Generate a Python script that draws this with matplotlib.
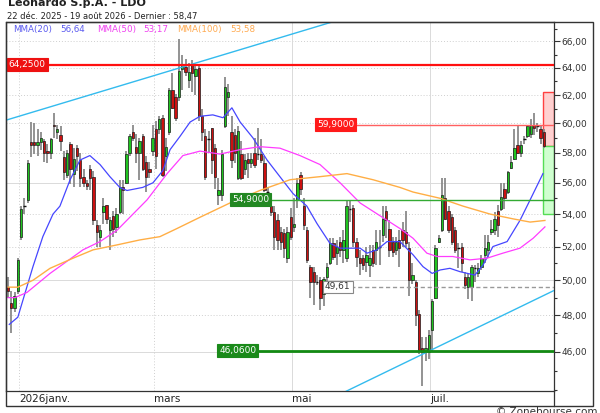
import numpy as np
import matplotlib
matplotlib.use("Agg")
import matplotlib.pyplot as plt
from matplotlib.patches import Rectangle
from matplotlib.lines import Line2D
from matplotlib.ticker import FixedLocator, FuncFormatter, NullFormatter

plt.rcParams['font.family'] = ['DejaVu Sans']

# ---------------- data ----------------
opens = [
    49.6, 48.7, 48.4, 49.4, 52.6, 54.5, 54.9, 58.7, 58.7, 58.5,
    58.7, 58.8, 58.1, 58.0, 59.9, 59.4, 59.2, 57.7, 56.5, 58.6,
    56.6, 58.3, 57.5, 56.4, 56.0, 56.9, 56.4, 53.3, 52.6, 54.1,
    54.6, 53.0, 53.9, 53.2, 54.1, 55.7, 56.0, 58.0, 59.4, 58.4,
    58.0, 59.1, 57.4, 56.9, 58.1, 59.6, 59.6, 60.4, 57.8, 59.4,
    62.4, 61.9, 61.9, 63.9, 64.1, 63.1, 64.3, 63.4, 64.0, 60.5,
    59.1, 58.9, 59.7, 58.3, 55.2, 55.2, 59.8, 61.9, 59.4, 59.2,
    56.3, 57.9, 56.9, 57.6, 57.3, 58.0, 57.9, 57.9, 57.3, 55.4,
    54.5, 54.1, 53.6, 52.9, 52.8, 51.3, 53.8, 53.2, 54.9, 56.5,
    54.5, 53.0, 50.8, 50.5, 49.9, 50.0, 49.2, 50.2, 51.0, 52.2,
    51.6, 52.3, 51.8, 51.3, 54.3, 54.4, 52.3, 51.3, 51.3, 51.1,
    50.9, 51.8, 51.8, 52.0, 52.7, 54.2, 53.1, 52.3, 51.8, 52.4,
    53.0, 52.9, 51.9, 50.0, 49.9, 48.1, 46.2, 46.0, 46.0, 47.2,
    49.0, 52.3, 53.0, 55.0, 54.2, 53.8, 53.0, 51.9, 52.0, 50.2,
    49.6, 49.6, 50.7, 50.4, 50.8, 51.5, 51.8, 52.9, 53.0, 54.2,
    54.3, 55.6, 55.4, 57.0, 57.6, 58.5, 58.0, 58.9, 59.1, 59.3,
    59.9, 59.8, 59.6, 59.4,
]
highs = [
    50.2, 49.4, 49.3, 51.3, 54.5, 55.0, 57.5, 60.1, 60.0, 59.6,
    59.4, 58.9, 58.6, 59.0, 60.7, 59.9, 59.8, 58.1, 58.2, 58.7,
    58.3, 58.5, 58.0, 56.9, 56.2, 57.2, 56.8, 53.6, 53.3, 55.0,
    54.6, 53.8, 54.2, 54.4, 56.2, 56.2, 58.1, 59.3, 59.9, 59.3,
    59.0, 59.3, 57.8, 57.4, 59.9, 60.2, 60.5, 60.6, 59.0, 62.5,
    63.6, 62.1, 66.2, 65.0, 64.7, 64.4, 64.6, 64.2, 64.2, 61.0,
    59.6, 59.5, 59.7, 58.6, 56.3, 58.2, 63.3, 62.8, 60.5, 59.6,
    59.8, 58.8, 57.9, 58.0, 58.0, 59.0, 59.7, 58.9, 57.8, 55.7,
    54.8, 54.5, 54.0, 53.2, 53.1, 53.2, 54.4, 55.0, 56.3, 56.7,
    55.0, 53.2, 50.9, 50.8, 50.3, 50.2, 50.2, 51.0, 52.5, 52.5,
    52.4, 52.6, 53.0, 54.9, 54.9, 54.6, 52.5, 51.8, 51.5, 52.0,
    52.1, 52.1, 53.0, 53.0, 54.5, 54.5, 53.6, 52.6, 52.6, 53.0,
    53.5, 54.2, 52.3, 51.0, 50.0, 48.3, 46.8, 46.8, 47.2, 48.9,
    52.1, 52.7, 56.3, 56.3, 54.5, 54.0, 53.2, 52.2, 52.2, 50.5,
    50.4, 50.9, 50.9, 51.0, 51.5, 52.7, 52.7, 53.6, 54.1, 54.6,
    56.0, 56.0, 56.8, 57.8, 59.6, 59.8, 58.8, 59.1, 59.9, 60.3,
    60.7, 60.0, 59.9, 59.6,
]
lows = [
    49.0, 47.0, 48.2, 49.2, 52.4, 54.0, 54.7, 57.7, 57.9, 57.8,
    58.2, 57.4, 57.3, 57.6, 59.0, 58.9, 58.1, 56.2, 56.3, 55.9,
    55.7, 56.8, 55.7, 55.7, 55.5, 55.5, 53.3, 52.0, 52.0, 53.4,
    53.4, 51.8, 52.6, 52.8, 54.0, 54.0, 55.9, 57.8, 58.8, 57.3,
    56.2, 56.8, 55.4, 56.3, 57.8, 56.9, 59.3, 56.4, 56.8, 59.2,
    61.0, 60.2, 61.6, 62.4, 63.4, 62.5, 62.2, 62.0, 60.2, 58.8,
    56.2, 58.0, 56.6, 55.6, 54.6, 54.8, 59.7, 60.5, 57.0, 57.3,
    56.2, 56.2, 56.5, 56.3, 57.0, 57.0, 57.5, 57.3, 55.4, 55.1,
    53.9, 51.8, 51.8, 51.8, 51.3, 51.0, 52.4, 52.9, 54.4, 55.2,
    53.0, 51.0, 49.0, 48.6, 49.7, 48.3, 48.5, 49.9, 50.9, 51.2,
    50.9, 51.4, 51.0, 51.1, 53.5, 52.0, 50.8, 50.3, 50.6, 50.5,
    50.2, 50.8, 50.9, 50.9, 52.3, 52.5, 51.4, 51.4, 51.5, 50.8,
    52.0, 52.0, 49.1, 49.8, 47.4, 45.9, 44.2, 45.5, 45.6, 46.0,
    48.9, 52.2, 52.9, 53.6, 52.8, 52.1, 51.6, 50.7, 50.5, 49.5,
    48.9, 48.8, 49.9, 50.2, 50.6, 51.0, 51.3, 52.7, 52.7, 52.6,
    54.2, 54.3, 55.3, 56.9, 57.5, 57.9, 57.7, 58.6, 59.0, 59.0,
    59.2, 59.4, 58.6, 58.3,
]
closes = [
    49.4, 48.4, 49.1, 51.2, 54.3, 54.5, 57.3, 58.5, 58.5, 58.7,
    59.0, 58.0, 58.0, 58.9, 59.8, 59.6, 58.8, 56.7, 58.0, 56.9,
    57.6, 57.8, 56.3, 56.0, 55.8, 56.3, 53.6, 52.9, 53.0, 54.5,
    53.7, 53.6, 53.1, 54.0, 55.7, 55.5, 57.9, 59.1, 59.0, 58.0,
    58.8, 56.9, 56.4, 56.7, 59.0, 57.8, 60.3, 56.5, 58.4, 62.4,
    61.1, 60.4, 63.8, 64.3, 63.7, 63.7, 63.6, 63.9, 60.5, 59.4,
    56.4, 58.9, 57.5, 56.4, 55.5, 57.9, 62.6, 62.2, 57.5, 58.0,
    59.5, 56.3, 57.5, 57.3, 57.6, 57.2, 57.9, 57.5, 55.5, 55.4,
    54.1, 52.6, 52.4, 52.3, 51.9, 52.9, 52.6, 53.4, 56.0, 55.6,
    53.3, 51.2, 49.9, 49.9, 49.9, 49.0, 50.1, 50.8, 52.2, 51.4,
    52.0, 51.8, 52.4, 54.5, 54.3, 52.3, 51.4, 51.0, 50.9, 51.5,
    51.3, 51.0, 52.3, 52.0, 53.7, 53.6, 51.8, 51.7, 52.3, 51.9,
    52.4, 52.2, 50.0, 50.3, 48.0, 46.1, 46.0, 46.2, 46.9, 48.8,
    51.9, 52.5, 55.2, 53.7, 53.0, 52.3, 51.8, 51.9, 51.0, 49.7,
    50.2, 50.8, 50.7, 50.7, 51.3, 51.9, 52.3, 53.1, 53.7, 53.3,
    55.1, 55.0, 56.7, 57.4, 58.3, 58.0, 58.5, 58.9, 59.8, 59.9,
    59.7, 59.8, 59.0, 58.47,
]

# month labels and index of first trading day of each month
month_labels = ['2026janv.', 'mars', 'mai', 'juil.']
month_idx = [4, 45, 87, 129]
month_grid_dotted = [True, True, False, False]

# moving averages (trading-day index, value)
ma20_x = [0.4, 3.0, 7.6, 10.6, 13.7, 15.8, 18.9, 21.9, 24.9, 28.0, 31.0, 34.0,
          36.2, 41.0, 44.1, 47.1, 49.3, 52.3, 55.4, 58.4, 62.3, 65.4, 68.1,
          70.6, 74.5, 78.8, 82.7, 86.7, 90.9, 94.0, 97.9, 101.0, 104.0, 107.1,
          109.2, 112.2, 115.3, 119.2, 123.2, 126.2, 129.0, 131.4, 134.4, 137.5,
          142.0, 144.5, 147.5, 151.8, 155.7, 158.8, 162.7]
ma20_y = [47.5, 47.9, 50.8, 52.6, 54.0, 54.5, 56.2, 57.5, 57.8, 57.2, 56.4, 55.7,
          55.5, 55.7, 56.0, 56.8, 58.2, 59.1, 60.1, 60.5, 60.6, 60.4, 61.1,
          60.1, 59.0, 57.5, 56.4, 55.3, 54.5, 53.4, 52.2, 51.9, 51.9, 51.9,
          51.6, 51.8, 52.3, 52.3, 51.5, 50.8, 50.4, 50.6, 50.7, 50.5,
          50.3, 50.9, 52.0, 52.3, 53.6, 54.9, 56.6]
ma50_x = [0.0, 2.1, 5.8, 12.8, 22.8, 28.0, 33.2, 42.3, 48.4, 53.2, 58.4, 64.5,
          70.6, 76.6, 82.7, 88.8, 94.9, 101.0, 107.1, 113.1, 119.2, 123.2,
          127.4, 130.5, 135.3, 140.5, 145.7, 150.5, 155.7, 159.7, 163.3]
ma50_y = [49.0, 49.0, 49.3, 50.4, 51.8, 52.3, 53.0, 54.9, 56.6, 57.8, 58.1, 57.9,
          58.2, 58.4, 58.3, 57.8, 57.2, 56.0, 54.7, 53.9, 53.1, 52.5,
          51.6, 51.4, 51.4, 51.2, 51.3, 51.6, 51.9, 52.5, 53.2]
ma100_x = [0.0, 3.0, 7.6, 12.8, 19.8, 25.9, 33.2, 40.1, 46.2, 51.4, 58.4, 67.5,
           76.6, 85.8, 94.9, 103.1, 111.0, 119.2, 123.2, 131.4, 138.4, 146.6,
           153.6, 158.8, 163.3]
ma100_y = [49.6, 49.6, 50.0, 50.7, 51.3, 51.8, 52.1, 52.4, 52.6, 53.1, 53.8, 54.7,
           55.5, 56.2, 56.4, 56.6, 56.2, 55.7, 55.4, 55.0, 54.5, 54.0,
           53.7, 53.5, 53.6]

legend_names = ['MMA(20)', 'MMA(50)', 'MMA(100)']
legend_vals = [56.64, 53.17, 53.58]

# trend lines (two anchor points each: index, price)
trend_up_x = [0.0, 58.4]
trend_up_y = [60.27, 64.46]
trend_lo_x = [113.1, 166.4]
trend_lo_y = [44.79, 49.44]

# horizontal levels
level_res1 = 64.25
level_res2 = 59.90
level_sup1 = 54.90
level_sup2 = 46.06
level_low = 49.61
box_top = 62.2
box_bottom = 54.0
last_price = 58.47

yticks_major = [46, 48, 50, 52, 54, 56, 58, 60, 62, 64, 66]
yticks_minor = [44, 45, 47, 49, 51, 53, 55, 57, 59, 61, 63, 65, 67]
grid_levels = [46, 48, 50, 52, 54, 56, 58, 60, 62, 64, 66]
grid_solid = [46, 50, 56]

# ---------------- figure ----------------
W, H = 600, 413
fig = plt.figure(figsize=(W / 100, H / 100), dpi=100)
fig.patch.set_facecolor('white')


def fx(px):
    return px / W


def fy(py):
    return 1 - py / H


ax = fig.add_axes([fx(6), fy(391), fx(554) - fx(6), fy(22) - fy(391)])
ax.set_yscale('log')
ax.set_ylim(43.96, 67.51)
XMIN, XMAX = -0.6, 166.06
ax.set_xlim(XMIN, XMAX)
ax.set_facecolor('white')

# grid
for lv in grid_levels:
    if lv in grid_solid:
        ax.axhline(lv, color='#dadada', lw=0.7, zorder=0)
    else:
        ax.axhline(lv, color='#cfcfcf', lw=0.7, ls=(0, (1, 2)), zorder=0)
tick_pos = [m - 0.6 for m in month_idx]
for p, dotted in zip(tick_pos, month_grid_dotted):
    if dotted:
        ax.axvline(p, color='#cfcfcf', lw=0.7, ls=(0, (1, 2)), zorder=0)
    else:
        ax.axvline(p, color='#dadada', lw=0.7, zorder=0)

# axes ticks
ax.set_xticks(tick_pos)
ax.set_xticklabels(month_labels, ha='left', fontsize=7.5, color='#222222')
ax.tick_params(axis='x', length=0, pad=2.5)
ax.yaxis.tick_right()
ax.yaxis.set_major_locator(FixedLocator(yticks_major))
ax.yaxis.set_major_formatter(FuncFormatter(lambda v, p: f"{v:.2f}".replace('.', ',')))
ax.yaxis.set_minor_locator(FixedLocator(yticks_minor))
ax.yaxis.set_minor_formatter(NullFormatter())
ax.tick_params(axis='y', which='major', length=4, width=0.8, color='#333333',
               labelsize=6.5, labelcolor='#333333', pad=1.5)
ax.tick_params(axis='y', which='minor', length=2.5, width=0.8, color='#333333')
for s in ax.spines.values():
    s.set_color('#333333')
    s.set_linewidth(0.9)

# candles
O = np.array(opens)
Hh = np.array(highs)
L = np.array(lows)
C = np.array(closes)
idx = np.arange(len(C))
lo_b = np.minimum(O, C)
hi_b = np.maximum(O, C)
ax.vlines(idx, np.minimum(L, lo_b), np.maximum(Hh, hi_b), color='#8a8a8a', lw=1.3, zorder=2)
up = C > O
dn = C < O
dj = C == O
ax.bar(idx[up], (hi_b - lo_b)[up], bottom=lo_b[up], width=0.72, color='#1fc41f',
       edgecolor='#1a1a1a', linewidth=0.5, zorder=3)
ax.bar(idx[dn], (hi_b - lo_b)[dn], bottom=lo_b[dn], width=0.72, color='#cc1010',
       edgecolor='#1a1a1a', linewidth=0.5, zorder=3)
ax.hlines(C[dj], idx[dj] - 0.4, idx[dj] + 0.4, color='#111111', lw=1.0, zorder=3)

# moving averages
ax.plot(ma20_x, ma20_y, color='#4646ff', lw=0.9, zorder=3.5)
ax.plot(ma50_x, ma50_y, color='#ff3cff', lw=0.9, zorder=3.5)
ax.plot(ma100_x, ma100_y, color='#ffae45', lw=1.0, zorder=3.5)


def trend(xs, ys):
    s = (np.log(ys[1]) - np.log(ys[0])) / (xs[1] - xs[0])
    xx = np.array([XMIN, XMAX])
    return xx, np.exp(np.log(ys[0]) + s * (xx - xs[0]))


tx, ty = trend(trend_up_x, trend_up_y)
ax.plot(tx, ty, color='#33bbee', lw=1.0, zorder=3.4)
tx, ty = trend(trend_lo_x, trend_lo_y)
ax.plot(tx, ty, color='#33bbee', lw=1.0, zorder=3.4)

# levels
ax.axhline(level_res1, color='#ff1010', lw=1.6, zorder=4)
ax.hlines(level_res2, 93.4, XMAX, color='#ff6060', lw=1.0, zorder=4)
ax.hlines(level_sup1, 67.5, XMAX, color='#33aa33', lw=1.0, zorder=4)
ax.hlines(level_sup2, 63.6, XMAX, color='#138a13', lw=2.0, zorder=4)
ax.hlines(level_low, 95.8, XMAX, color='#999999', lw=1.0, ls=(0, (3, 2)), zorder=4)


def fmt4(v):
    return f"{v:.4f}".replace('.', ',')


def lab(x, y, txt, fc, ec, tc):
    ax.text(x, y, txt, ha='left', va='center', fontsize=6.5, color=tc, zorder=6,
            bbox=dict(boxstyle='square,pad=0.22', fc=fc, ec=ec, lw=0.8))


lab(0.2, level_res1, fmt4(level_res1), '#ee1111', '#ee1111', 'white')
lab(94.0, level_res2, fmt4(level_res2), '#ff1a1a', '#ff1a1a', 'white')
lab(68.1, level_sup1, fmt4(level_sup1), '#228822', '#228822', 'white')
lab(64.2, level_sup2, fmt4(level_sup2), '#1a8a1a', '#1a8a1a', 'white')
lab(96.4, level_low, f"{level_low:.2f}".replace('.', ','), 'white', '#888888', '#333333')

# projection boxes at the right edge
ax.add_patch(Rectangle((162.8, last_price), XMAX - 162.8, box_top - last_price,
                       fc='#ffd0d0', ec='#ff4040', lw=1.0, zorder=1.5))
ax.add_patch(Rectangle((162.8, box_bottom), XMAX - 162.8, last_price - box_bottom,
                       fc='#d0ffd0', ec='#55dd55', lw=1.0, zorder=1.5))

# outer frame
fig.add_artist(Rectangle((fx(6), fy(406)), fx(593) - fx(6), fy(22) - fy(406),
                         transform=fig.transFigure, fill=False, ec='#333333', lw=1.0))
fig.add_artist(Line2D([fx(554), fx(554)], [fy(391), fy(406)], transform=fig.transFigure,
                      color='#333333', lw=0.9))

# header texts
fig.text(fx(8), fy(6.5), 'Leonardo S.p.A. - LDO', fontsize=8, fontweight='bold',
         color='#222222', va='baseline', ha='left')
fig.text(fx(7), fy(18.5), f"22 déc. 2025 - 19 août 2026 - Dernier : {last_price:.2f}".replace('.', ',', 2).replace('déc,', 'déc.'),
         fontsize=6, color='#222222', va='baseline', ha='left')

leg_cols = ['#5a5af0', '#f040f0', '#ffaa50']
name_px = [13, 97, 177]
val_px = [60, 143, 230]
for nm, v, c, xn, xv in zip(legend_names, legend_vals, leg_cols, name_px, val_px):
    fig.text(fx(xn), fy(32), nm, fontsize=6.3, color=c, va='baseline', ha='left')
    fig.text(fx(xv), fy(32), f"{v:.2f}".replace('.', ','), fontsize=6.3, color=c,
             va='baseline', ha='left')

fig.text(fx(598), fy(407), '© Zonebourse.com', fontsize=7.5, color='#333333',
         va='top', ha='right')

fig.savefig('out.png', dpi=100, facecolor='white')
